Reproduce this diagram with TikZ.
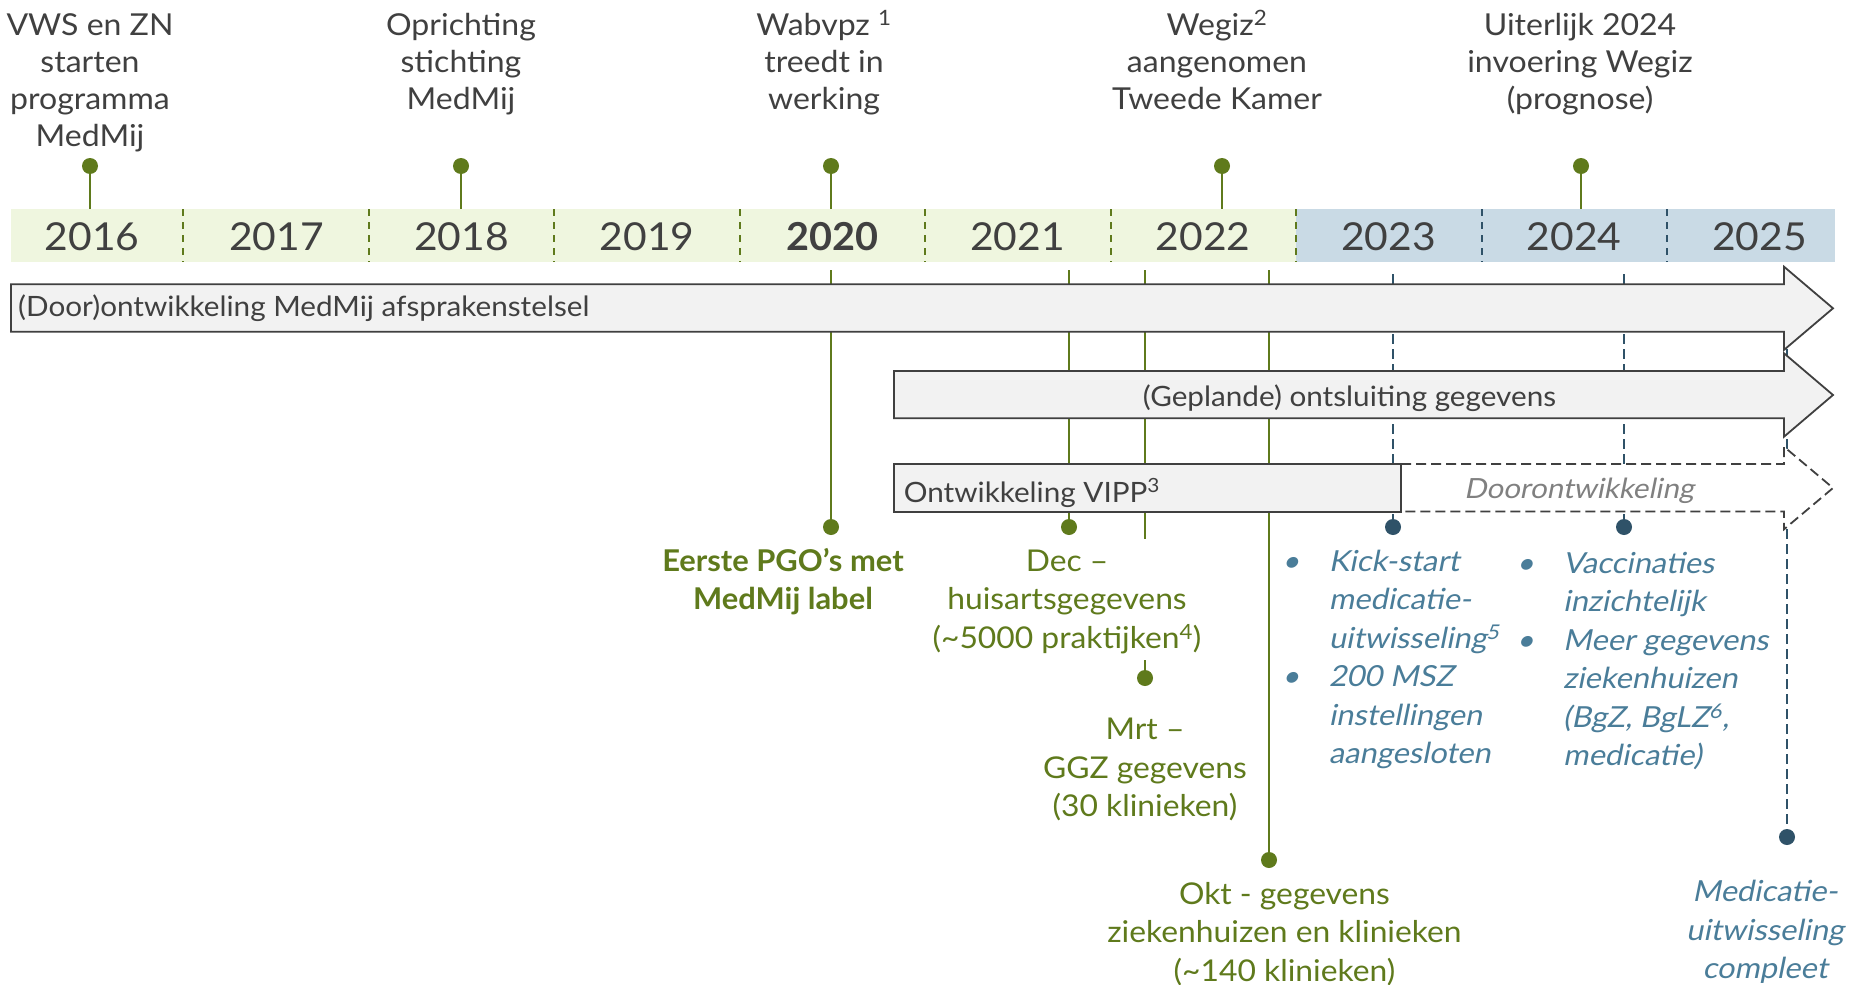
\documentclass[tikz,border=0pt]{standalone}
\usepackage{fontspec}
\setmainfont{Lato}[FakeStretch=1.06]
\newfontfamily\latobold{Lato}[FakeStretch=1.03]
\newfontfamily\latoobl{Lato}[FakeSlant=0.2, FakeStretch=1.06]
\definecolor{mgreen}{HTML}{5F7A1C}
\definecolor{bandgreen}{HTML}{EFF6DF}
\definecolor{bandblue}{HTML}{C9DAE5}
\definecolor{mblue}{HTML}{2F5268}
\definecolor{btext}{HTML}{4A7D99}
\definecolor{tgray}{HTML}{404040}
\definecolor{afill}{HTML}{F2F2F2}
\definecolor{astroke}{HTML}{404040}
\definecolor{lgray}{HTML}{808080}
\begin{document}
\begin{tikzpicture}[x=1pt,y=-1pt,
  gline/.style={draw=mgreen, line width=2.6pt},
  bline/.style={draw=mblue, line width=2.6pt, dash pattern=on 10pt off 5pt},
  gsep/.style={draw=mgreen, line width=2pt, dash pattern=on 7pt off 6pt},
  bsep/.style={draw=mblue, line width=2pt, dash pattern=on 7pt off 6pt},
  gdot/.style={circle, fill=mgreen, inner sep=0pt, minimum size=16pt},
  bdot/.style={circle, fill=mblue, inner sep=0pt, minimum size=16pt},
  yr/.style={font=\fontsize{38.5}{47}\selectfont, text=tgray, anchor=base, inner sep=0pt},
  toptxt/.style={font=\fontsize{30.2}{37.2}\selectfont, text=tgray, align=center, anchor=base, inner sep=0pt},
  gtxt/.style={font=\fontsize{30}{38.5}\selectfont, text=mgreen, align=center, anchor=base, inner sep=0pt},
  btxt/.style={font=\fontsize{29}{38.5}\selectfont\latoobl, text=btext, align=left, anchor=base west, inner sep=0pt},
  arr/.style={fill=afill, draw=astroke, line width=1.8pt},
  darr/.style={fill=white, draw=astroke, line width=1.8pt, dash pattern=on 10pt off 5pt},
  atxt/.style={font=\fontsize{28}{34}\selectfont, text=tgray, inner sep=0pt},
]
\path[use as bounding box, fill=white] (0,0) rectangle (1866,985);

% ---- top milestones: dots and stems
\node[gdot] (d16) at (90,166) {};
\node[gdot] (d18) at (461,166) {};
\node[gdot] (d20) at (831,166) {};
\node[gdot] (d22) at (1222,166) {};
\node[gdot] (d24) at (1581,166) {};
\coordinate (b16) at (90,210);
\coordinate (b18) at (461,210);
\coordinate (b20) at (831,210);
\coordinate (b22) at (1222,210);
\coordinate (b24) at (1581,210);
\draw[gline] (d16) -- (b16);
\draw[gline] (d18) -- (b18);
\draw[gline] (d20) -- (b20);
\draw[gline] (d22) -- (b22);
\draw[gline] (d24) -- (b24);

% ---- lower milestone stems
\coordinate (s20) at (831,270);
\coordinate (sdec) at (1069,270);
\coordinate (smrt) at (1145,270);
\coordinate (smrtA) at (1145,539);
\coordinate (smrtB) at (1145,660);
\coordinate (sokt) at (1269,270);
\coordinate (s23) at (1393,274);
\coordinate (s24) at (1624,274);
\coordinate (s25) at (1787,274);
\node[gdot] (p20) at (831,527) {};
\node[gdot] (pdec) at (1069,527) {};
\node[gdot] (pmrt) at (1145,678) {};
\node[gdot] (pokt) at (1269,860) {};
\node[bdot] (p23) at (1393,527) {};
\node[bdot] (p24) at (1624,527) {};
\node[bdot] (p25) at (1787,837) {};
\draw[gline] (s20) -- (p20);
\draw[gline] (sdec) -- (pdec);
\draw[gline] (smrt) -- (smrtA);
\draw[gline] (smrtB) -- (pmrt);
\draw[gline] (sokt) -- (pokt);
\draw[bline] (s23) -- (p23);
\draw[bline] (s24) -- (p24);
\draw[bline] (s25) -- (p25);

% ---- year band
\fill[bandgreen] (11,209) rectangle (1296,262);
\fill[bandblue] (1296,209) rectangle (1835,262);
\foreach \k in {0,...,6} {
  \draw[gsep] ({183+185.5*\k},209) -- ({183+185.5*\k},262);
}
\foreach \k in {7,8} {
  \draw[bsep] ({183+185.5*\k},209) -- ({183+185.5*\k},262);
}
\node[yr] (y16) at (92,250) {2016};
\node[yr] (y17) at (276.5,250) {2017};
\node[yr] (y18) at (461.5,250) {2018};
\node[yr] (y19) at (647,250) {2019};
\node[yr, font=\fontsize{38.5}{47}\selectfont\latobold\bfseries] (y20) at (832,250) {2020};
\node[yr] (y21) at (1017.5,250) {2021};
\node[yr] (y22) at (1203,250) {2022};
\node[yr] (y23) at (1388.5,250) {2023};
\node[yr] (y24) at (1574,250) {2024};
\node[yr] (y25) at (1759.5,250) {2025};

% ---- arrows
\path[arr] (11,284.3) -- (1784,284.3) -- (1784,266.7) -- (1833,308.3) -- (1784,349.9) -- (1784,331.7) -- (11,331.7) -- cycle;
\node[atxt, anchor=base west] (a1) at (18,316.7) {(Door)ontwikkeling MedMij afsprakenstelsel};
\path[arr] (894,371) -- (1784,371) -- (1784,353.3) -- (1833,395) -- (1784,436.7) -- (1784,418.3) -- (894,418.3) -- cycle;
\node[atxt, anchor=base] (a2) at (1349.5,406.7) {(Geplande) ontsluiting gegevens};
\path[darr] (1401,464) -- (1784,464) -- (1784,446.7) -- (1833,488) -- (1784,529.3) -- (1784,511.5) -- (1401,511.5);
\node[atxt, anchor=base, text=lgray, font=\fontsize{27.8}{34}\selectfont\latoobl] (a4) at (1579,498.3) {Doorontwikkeling};
\path[arr] (894,463.6) rectangle (1401,512);
\node[atxt, anchor=base west] (a3) at (903.6,502) {Ontwikkeling VIPP\textsuperscript{3}};

% ---- top labels (base anchor = baseline of the last line)
\node[toptxt] (l16) at (90,146.6) {VWS en ZN\\starten\\programma\\MedMij};
\node[toptxt] (l18) at (461,109.4) {Oprichting\\stichting\\MedMij};
\node[toptxt] (l20) at (824,109.4) {Wabvpz \textsuperscript{1}\\treedt in\\werking};
\node[toptxt] (l22) at (1217,109.4) {Wegiz\textsuperscript{2}\\aangenomen\\Tweede Kamer};
\node[toptxt] (l24) at (1580,109.4) {Uiterlijk 2024\\invoering Wegiz\\(prognose)};

% ---- lower labels
\node[gtxt, font=\fontsize{30}{37.6}\selectfont\latobold\bfseries] (t20) at (783,609.3) {Eerste PGO’s met\\MedMij label};
\node[gtxt] (tdec) at (1067,648.4) {Dec –\\huisartsgegevens\\(\textasciitilde5000 praktijken\textsuperscript{4})};
\node[gtxt] (tmrt) at (1145,816.6) {Mrt –\\GGZ gegevens\\(30 klinieken)};
\node[gtxt] (tokt) at (1284.5,981) {Okt - gegevens\\ziekenhuizen en klinieken\\(\textasciitilde140 klinieken)};
\node[btxt] (t23) at (1328.6,763.9) {\leavevmode\llap{•\hspace{29pt}}Kick-start\\medicatie-\\uitwisseling\textsuperscript{5}\\\leavevmode\llap{•\hspace{29pt}}200 MSZ\\instellingen\\aangesloten};
\node[btxt] (t24) at (1563,765.8) {\leavevmode\llap{•\hspace{29pt}}Vaccinaties\\inzichtelijk\\\leavevmode\llap{•\hspace{29pt}}Meer gegevens\\ziekenhuizen\\(BgZ, BgLZ\textsuperscript{6},\\medicatie)};
\node[gtxt, text=btext, font=\fontsize{29}{38.5}\selectfont\latoobl] (t25) at (1765,978.7) {Medicatie-\\uitwisseling\\compleet};
\end{tikzpicture}
\end{document}
